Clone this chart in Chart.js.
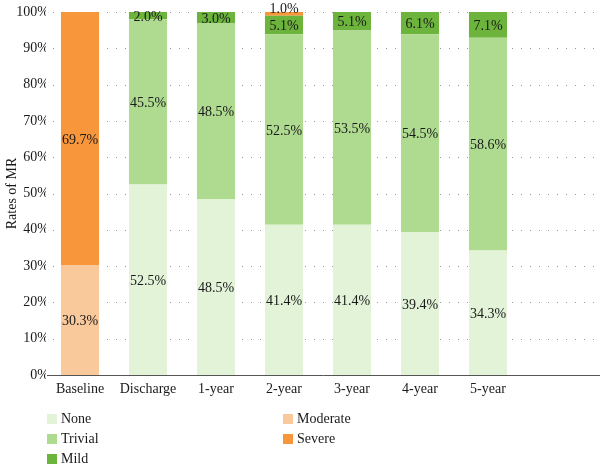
<!DOCTYPE html>
<html>
<head>
<meta charset="utf-8">
<script src="https://cdn.jsdelivr.net/npm/chart.js@4/dist/chart.umd.min.js"></script>
<style>
  html, body { margin: 0; padding: 0; background: #fff; }
  #wrap { position: relative; width: 600px; height: 470px; }
  #legend { position: absolute; left: 0; top: 0; font-family: "Liberation Serif", "DejaVu Serif", serif; font-size: 14px; color: #1a1a1a; }
  .li { position: absolute; white-space: nowrap; line-height: 16px; }
  .li span.box { position: absolute; left: 0; top: 3px; width: 10px; height: 10px; }
  .li span.txt { position: absolute; left: 14px; top: 0; }
</style>
</head>
<body>
<div id="wrap">
  <canvas id="c" width="600" height="470"></canvas>
  <div id="legend"></div>
</div>
<script>
const categories = ["Baseline", "Discharge", "1-year", "2-year", "3-year", "4-year", "5-year"];
const seriesNames = ["None", "Trivial", "Mild", "Moderate", "Severe"];
const noneVals     = [0,    52.5, 48.5, 41.4, 41.4, 39.4, 34.3];
const trivialVals  = [0,    45.5, 48.5, 52.5, 53.5, 54.5, 58.6];
const mildVals     = [0,    2.0,  3.0,  5.1,  5.1,  6.1,  7.1];
const moderateVals = [30.3, 0,    0,    0,    0,    0,    0];
const severeVals   = [69.7, 0,    0,    1.0,  0,    0,    0];
const yTicks = [0, 10, 20, 30, 40, 50, 60, 70, 80, 90, 100];

const colors = ["#e2f3d8", "#afdb90", "#6cb43c", "#f9c99b", "#f7963a"];
const allVals = [noneVals, trivialVals, mildVals, moderateVals, severeVals];
const FONT = '"Liberation Serif", "DejaVu Serif", serif';

const datasets = seriesNames.map((n, i) => ({
  label: n,
  data: allVals[i],
  backgroundColor: colors[i],
  borderWidth: 0,
  categoryPercentage: 1.0,
  barPercentage: 0.56
}));

const gridPlugin = {
  id: 'extGrid',
  beforeDatasetsDraw(chart) {
    const ctx = chart.ctx;
    const y = chart.scales.y;
    const area = chart.chartArea;
    ctx.save();
    ctx.strokeStyle = '#9a9a9a';
    ctx.lineWidth = 1;
    ctx.setLineDash([1, 8]);
    yTicks.forEach(v => {
      if (v === 0) return;
      const py = Math.round(y.getPixelForValue(v)) + 0.5;
      ctx.beginPath();
      ctx.moveTo(area.left + 7, py);
      ctx.lineTo(chart.width, py);
      ctx.stroke();
    });
    ctx.restore();
  },
  afterDatasetsDraw(chart) {
    const ctx = chart.ctx;
    const y = chart.scales.y;
    const area = chart.chartArea;
    ctx.save();
    ctx.strokeStyle = '#555';
    ctx.lineWidth = 1;
    const py0 = Math.round(y.getPixelForValue(0)) + 0.5;
    ctx.beginPath();
    ctx.moveTo(area.left + 1, py0);
    ctx.lineTo(chart.width, py0);
    ctx.stroke();
    ctx.font = '14px ' + FONT;
    ctx.fillStyle = '#1a1a1a';
    ctx.textAlign = 'center';
    ctx.textBaseline = 'middle';
    chart.data.datasets.forEach((ds, di) => {
      const meta = chart.getDatasetMeta(di);
      meta.data.forEach((bar, i) => {
        const v = ds.data[i];
        if (!v) return;
        const top = Math.min(bar.y, bar.base);
        const bot = Math.max(bar.y, bar.base);
        let cy = (top + bot) / 2;
        if (bot - top < 6) cy = top - 4;
        ctx.fillText(v.toFixed(1) + '%', bar.x, cy + 1.5);
      });
    });
    ctx.restore();
  }
};

const chart = new Chart(document.getElementById('c'), {
  type: 'bar',
  data: { labels: categories, datasets },
  options: {
    responsive: false,
    animation: false,
    layout: { padding: { top: 12, right: 78, bottom: 62, left: 0 } },
    plugins: { legend: { display: false }, tooltip: { enabled: false } },
    scales: {
      x: {
        stacked: true,
        grid: { display: false, drawTicks: false },
        border: { display: false },
        ticks: { font: { family: FONT, size: 14 }, color: '#1a1a1a', padding: 6, maxRotation: 0 },
        afterFit(s) { s.height = 33; }
      },
      y: {
        stacked: true,
        min: 0, max: 100,
        afterBuildTicks(s) { s.ticks = yTicks.map(v => ({ value: v })); },
        grid: { display: false, drawTicks: false },
        border: { display: false },
        ticks: { font: { family: FONT, size: 14 }, color: '#1a1a1a', padding: -3, callback: v => v + '%' },
        title: { display: true, text: 'Rates of MR', font: { family: FONT, size: 14 }, color: '#1a1a1a', padding: { top: 4, bottom: 0 } },
        afterFit(s) { s.width = 46; }
      }
    }
  },
  plugins: [gridPlugin]
});

const legend = document.getElementById('legend');
const positions = [
  { x: 47, y: 411 }, { x: 47, y: 431 }, { x: 47, y: 451 },
  { x: 283, y: 411 }, { x: 283, y: 431 }
];
chart.data.datasets.forEach((ds, i) => {
  const d = document.createElement('div');
  d.className = 'li';
  d.style.left = positions[i].x + 'px';
  d.style.top = positions[i].y + 'px';
  d.innerHTML = '<span class="box" style="background:' + ds.backgroundColor + '"></span><span class="txt">' + ds.label + '</span>';
  legend.appendChild(d);
});
</script>
</body>
</html>
